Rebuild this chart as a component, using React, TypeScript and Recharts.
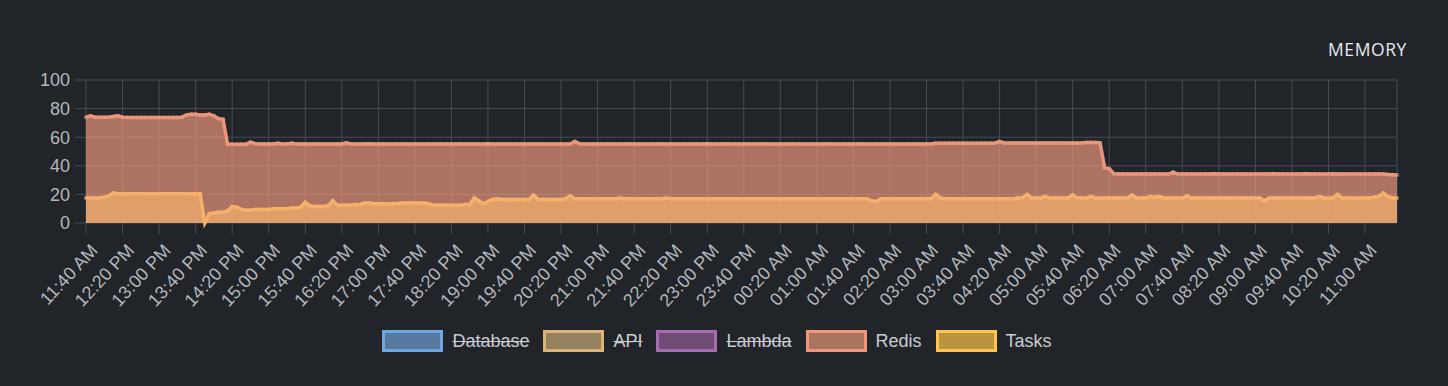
import { AreaChart, Area, XAxis, YAxis, CartesianGrid } from "recharts";

const START_MINUTE = 11 * 60 + 40;
const STEP_MINUTES = 5;

// Redis memory %, one value every 5 minutes
const redisValues = [
  74, 75, 74, 74, 74, 74, 74.5, 75, 74, 73.8, 73.8, 73.8, 73.8, 73.8, 73.8, 73.8,
  73.8, 73.8, 73.8, 73.8, 73.8, 74, 75.5, 76, 76, 75.5, 75.5, 76, 75, 73, 72.5, 55,
  55, 55, 55, 55, 56.5, 55.5, 55.2, 55.2, 55.2, 55.2, 55.8, 55.2, 55.2, 55.8, 55.2, 55.2,
  55.2, 55.2, 55.2, 55.2, 55.2, 55.2, 55.2, 55.2, 55.2, 56, 55.2, 55.2, 55.2, 55.2, 55.5, 55.2,
  55.2, 55.2, 55.2, 55.2, 55.2, 55.2, 55.2, 55.2, 55.2, 55.2, 55.2, 55.2, 55.2, 55.2, 55.2, 55.2,
  55.2, 55.2, 55.2, 55.2, 55.2, 55.2, 55.2, 55.2, 55.5, 55.2, 55.2, 55.2, 55.2, 55.2, 55.2, 55.2,
  55.2, 55.2, 55.2, 55.2, 55.2, 55.2, 55.2, 55.2, 55.2, 55.2, 55.2, 57, 55.5, 55.2, 55.2, 55.2,
  55.2, 55.2, 55.2, 55.2, 55.2, 55.2, 55.2, 55.2, 55.2, 55.2, 55.2, 55.2, 55.2, 55.2, 55.2, 55.2,
  55.2, 55.2, 55.2, 55.2, 55.2, 55.2, 55.2, 55.2, 55.5, 55.2, 55.2, 55.2, 55.5, 55.2, 55.2, 55.2,
  55.2, 55.2, 55.2, 55.2, 55.2, 55.2, 55.2, 55.2, 55.2, 55.2, 55.2, 55.2, 55.2, 55.2, 55.2, 55.2,
  55.2, 55.2, 55.2, 55.2, 55.2, 55.2, 55.2, 55.2, 55.2, 55.2, 55.2, 55.2, 55.2, 55.2, 55.2, 55.2,
  55.2, 55.2, 55.2, 55.2, 55.2, 55.2, 55.2, 55.2, 55.2, 55.2, 55.8, 55.8, 55.8, 55.8, 55.8, 55.8,
  55.8, 55.8, 55.8, 55.8, 55.8, 55.8, 55.8, 56, 57, 56, 56, 56, 56, 56, 56, 56,
  56, 56, 56, 56, 56, 56, 56, 56, 56, 56, 56, 56.3, 56.3, 56.3, 56, 38.5,
  38, 34.5, 34.2, 34.2, 34.2, 34.2, 34.2, 34.2, 34.2, 34.2, 34.2, 34.2, 34.2, 34.2, 35.5, 34.2,
  34.2, 34.2, 34.2, 34.2, 34.2, 34.2, 34.2, 34.5, 34.2, 34.2, 34.2, 34.2, 34.2, 34.2, 34.2, 34.2,
  34.2, 34.2, 34.2, 34.2, 34.5, 34.2, 34.2, 34.2, 34.2, 34.2, 34.2, 34.5, 34.2, 34.2, 34.2, 34.2,
  34.2, 34.5, 34.2, 34.2, 34.2, 34.2, 34.2, 34.2, 34.2, 34.2, 34.2, 34.2, 34.2, 34, 33.8, 33.5,
];

// Tasks memory %, same timestamps
const taskValues = [
  17.5, 17.5, 17.5, 17.5, 18, 19, 21, 20.5, 20.5, 20.5, 20.5, 20.5, 20.5, 20.5, 20.5, 20.5,
  20.5, 20.5, 20.5, 20.5, 20.5, 20.5, 20.5, 20.5, 20.5, 20.5, 0, 6.5, 7, 7.5, 7.5, 8.5,
  11.5, 11, 9.5, 9, 9, 9.5, 9.5, 9.5, 9.5, 10, 10, 10, 10, 10.5, 10.5, 11,
  14.5, 12, 11.5, 11.5, 11.5, 12, 15.5, 12.5, 12.5, 12.5, 12.5, 13, 13, 14, 14, 13.5,
  13.5, 13.5, 13.5, 13.5, 13.5, 14, 14, 14, 14, 14, 14, 13.5, 12.5, 12.5, 12.5, 12.5,
  12.5, 12.5, 12.5, 13, 13, 17.5, 15.5, 13.5, 15, 16.5, 17, 16.5, 16.5, 16.5, 16.5, 16.5,
  16.5, 16.5, 19.5, 16.5, 16.5, 16.5, 16.5, 16.5, 16.5, 17, 19, 17, 17, 17, 17, 17,
  17, 17, 17, 17, 17, 17.5, 17, 17, 17, 17, 17, 17, 17, 17, 17, 17.5,
  17, 17, 17, 17, 17, 17, 17, 17, 17, 17, 17, 17, 17, 17, 17, 17,
  17, 17, 17, 17, 17, 17, 17, 17, 17, 17, 17, 17, 17, 17, 17, 17,
  17, 17, 17, 17, 17, 17, 17, 17, 17, 17, 17, 17, 15.5, 15, 17, 17,
  17, 17, 17, 17, 17, 17, 17, 17, 17, 17, 20, 17.5, 17, 17, 17, 17,
  17, 17, 17, 17, 17, 17, 17, 17, 17, 17, 17, 17, 17.5, 17.5, 20, 17.5,
  17.5, 17.5, 18.5, 17.5, 17.5, 17.5, 17.5, 17.5, 19.5, 17.5, 17.5, 17.5, 18.5, 17.5, 17.5, 17.5,
  17.5, 17.5, 17.5, 17.5, 17.5, 19.5, 17.5, 17.5, 17.5, 18.5, 18, 18.5, 17.5, 17.5, 17.5, 17.5,
  17.5, 19, 17.5, 17.5, 17.5, 17.5, 17.5, 17.5, 17.5, 17.5, 17.5, 17.5, 17.5, 17.5, 17.5, 17.5,
  17.5, 17.5, 15.5, 17.5, 17.5, 17.5, 17.5, 17.5, 17.5, 17.5, 17.5, 17.5, 17.5, 17.5, 18.5, 17.5,
  17.5, 17.5, 20, 17.5, 17.5, 17.5, 17.5, 17.5, 17.5, 17.5, 18, 18.5, 21, 18.5, 17.5, 17.5,
];

const tickLabels = [
  "11:40 AM", "12:20 PM", "13:00 PM", "13:40 PM", "14:20 PM", "15:00 PM", "15:40 PM", "16:20 PM",
  "17:00 PM", "17:40 PM", "18:20 PM", "19:00 PM", "19:40 PM", "20:20 PM", "21:00 PM", "21:40 PM",
  "22:20 PM", "23:00 PM", "23:40 PM", "00:20 AM", "01:00 AM", "01:40 AM", "02:20 AM", "03:00 AM",
  "03:40 AM", "04:20 AM", "05:00 AM", "05:40 AM", "06:20 AM", "07:00 AM", "07:40 AM", "08:20 AM",
  "09:00 AM", "09:40 AM", "10:20 AM", "11:00 AM",
];

const yTicks = [0, 20, 40, 60, 80, 100];

const legendItems = [
  { name: "Database", border: "#6fa7e2", fill: "#56799f", hidden: true },
  { name: "API", border: "#dcb477", fill: "#978260", hidden: true },
  { name: "Lambda", border: "#a66bb0", fill: "#6f4c74", hidden: true },
  { name: "Redis", border: "#f0977b", fill: "#ab7460", hidden: false },
  { name: "Tasks", border: "#ffc350", fill: "#b9963d", hidden: false },
];

const pad = (n: number) => String(n).padStart(2, "0");
const timeLabel = (i: number) => {
  const m = (START_MINUTE + i * STEP_MINUTES) % (24 * 60);
  const h = Math.floor(m / 60);
  return `${pad(h)}:${pad(m % 60)} ${h < 12 ? "AM" : "PM"}`;
};

const data = redisValues.map((redis, i) => ({
  time: timeLabel(i),
  redis,
  tasks: taskValues[i],
}));

const BG = "#212428";
const GRID = "#464c54";
const TICK_TEXT = "#b3b7bd";
const FONT = "'Liberation Sans', Arial, Helvetica, sans-serif";

const XTick = ({ x, payload }: any) => (
  <g transform={`translate(${x + 8},${247}) rotate(-47)`}>
    <text textAnchor="end" dy="0.35em" fill={TICK_TEXT} fontSize={18} fontFamily={FONT}>
      {payload.value}
    </text>
  </g>
);

const MemoryLegend = () => (
  <div
    style={{
      position: "absolute",
      top: 330,
      left: 0,
      width: 1448,
      display: "flex",
      justifyContent: "center",
      alignItems: "center",
      fontFamily: FONT,
      fontSize: 18,
      color: "#c7cbd1",
    }}
  >
    {legendItems.map((item) => (
      <div key={item.name} style={{ display: "flex", alignItems: "center", marginRight: 14 }}>
        <span
          style={{
            width: 55,
            height: 16,
            border: `3px solid ${item.border}`,
            background: item.fill,
            marginRight: 9,
          }}
        />
        <span style={{ textDecoration: item.hidden ? "line-through" : "none" }}>{item.name}</span>
      </div>
    ))}
  </div>
);

export default function App() {
  return (
    <div style={{ position: "relative", width: 1448, height: 386, background: BG, overflow: "hidden" }}>
      <style>{`body{margin:0;background:${BG};}`}</style>
      <div
        style={{
          position: "absolute",
          top: 37,
          right: 41,
          fontFamily: "'Open Sans', sans-serif",
          fontSize: 17.5,
          letterSpacing: 0.6,
          color: "#e4e9f0",
        }}
      >
        MEMORY
      </div>
      <AreaChart
        width={1448}
        height={386}
        data={data}
        margin={{ top: 80, right: 51, bottom: 0, left: 0 }}
      >
        <CartesianGrid stroke={GRID} strokeWidth={1} />
        <XAxis
          dataKey="time"
          ticks={tickLabels}
          interval={0}
          height={163}
          axisLine={false}
          tickLine={{ stroke: GRID }}
          tickSize={11}
          tick={<XTick />}
        />
        <YAxis
          domain={[0, 100]}
          ticks={yTicks}
          width={86}
          axisLine={false}
          tickLine={{ stroke: GRID }}
          tickSize={11}
          tickMargin={5}
          tick={{ fill: TICK_TEXT, fontSize: 18, fontFamily: FONT }}
        />
        <Area
          type="linear"
          dataKey="redis"
          name="Redis"
          stroke="#e9967a"
          strokeWidth={3.5}
          fill="#e9967a"
          fillOpacity={0.7}
          dot={{ r: 2, fill: "#e9967a", stroke: "none" }}
          isAnimationActive={false}
        />
        <Area
          type="linear"
          dataKey="tasks"
          name="Tasks"
          stroke="#f5b06c"
          strokeWidth={3.5}
          fill="#f5b06c"
          fillOpacity={0.7}
          dot={{ r: 2, fill: "#f5b06c", stroke: "none" }}
          isAnimationActive={false}
        />
      </AreaChart>
      <MemoryLegend />
    </div>
  );
}
